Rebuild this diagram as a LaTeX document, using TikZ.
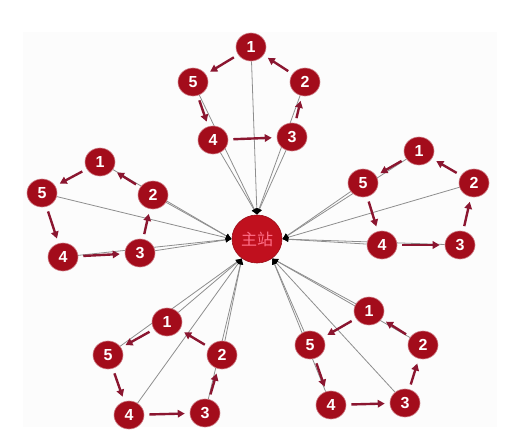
\documentclass[tikz,border=0pt]{standalone}
\usepackage{fontspec}
\setmainfont{Liberation Sans}
\newfontfamily\cjk{Noto Sans CJK SC}
\usetikzlibrary{arrows.meta,shapes.geometric,backgrounds}
\definecolor{nodered}{HTML}{A30C1B}
\definecolor{hubred}{HTML}{C0101E}
\definecolor{hubtext}{HTML}{FF6F88}
\definecolor{arrowred}{HTML}{8B1630}
\definecolor{linegray}{HTML}{8E8E8E}
\definecolor{panel}{HTML}{FCFCFC}
\tikzset{
  num/.style={ellipse, fill=nodered, draw=nodered!55!white, line width=0.6pt,
    minimum width=30pt, minimum height=28pt, inner sep=0pt, text=white,
    font=\fontsize{16}{16}\selectfont\bfseries},
  hub/.style={ellipse, fill=hubred, draw=hubred!80!black, line width=0.6pt,
    minimum width=50pt, minimum height=48pt, inner sep=0pt, text=hubtext,
    font=\cjk\fontsize{16}{16}\selectfont},
  cyc/.style={draw=arrowred, line width=2.4pt, -{Triangle[length=7pt,width=7.5pt]},
    shorten <=5pt, shorten >=5pt},
  feed/.style={draw=linegray, line width=0.8pt, -{Latex[length=6pt,width=5.5pt,color=black]}},
}
\newcommand{\mycluster}[7]{%
  \node[num] (#1-1) at (#3) {1};
  \node[num] (#1-2) at (#4) {2};
  \node[num] (#1-3) at (#5) {3};
  \node[num] (#1-4) at (#6) {4};
  \node[num] (#1-5) at (#7) {5};
  \draw[cyc] (#1-2) -- (#1-1);
  \draw[cyc] (#1-1) -- (#1-5);
  \draw[cyc] (#1-5) -- (#1-4);
  \draw[cyc] (#1-4) -- (#1-3);
  \draw[cyc] (#1-3) -- (#1-2);
  \begin{pgfonlayer}{background}
    \foreach \k in {1,...,5} {\draw[feed] (#1-\k) -- (#2);}
  \end{pgfonlayer}
}
\begin{document}
\begin{tikzpicture}[x=1pt,y=-1pt]
  \useasboundingbox (0,0) rectangle (523,439);
  \begin{pgfonlayer}{background}
    \fill[white] (0,0) rectangle (523,439);
    \fill[panel] (23,32) rectangle (497,427);
  \end{pgfonlayer}
  \node[hub] (hub) at (257,239) {主站};
  \coordinate (inT) at (hub.90);
  \coordinate (inL) at (hub.180);
  \coordinate (inR) at (hub.0);
  \coordinate (inBL) at (hub.232);
  \coordinate (inBR) at (hub.308);
  \mycluster{t}{inT}{251,47}{305,82}{292,137}{213,140}{193,82}
  \mycluster{l}{inL}{100,162}{153,195}{140,253}{63,257}{42,193}
  \mycluster{r}{inR}{419,151}{474,183}{460,245}{382,245}{363,183}
  \mycluster{bl}{inBL}{167,322}{222,355}{205,413}{129,415}{108,355}
  \mycluster{br}{inBR}{369,311}{423,345}{405,403}{331,405}{310,345}
\end{tikzpicture}
\end{document}
